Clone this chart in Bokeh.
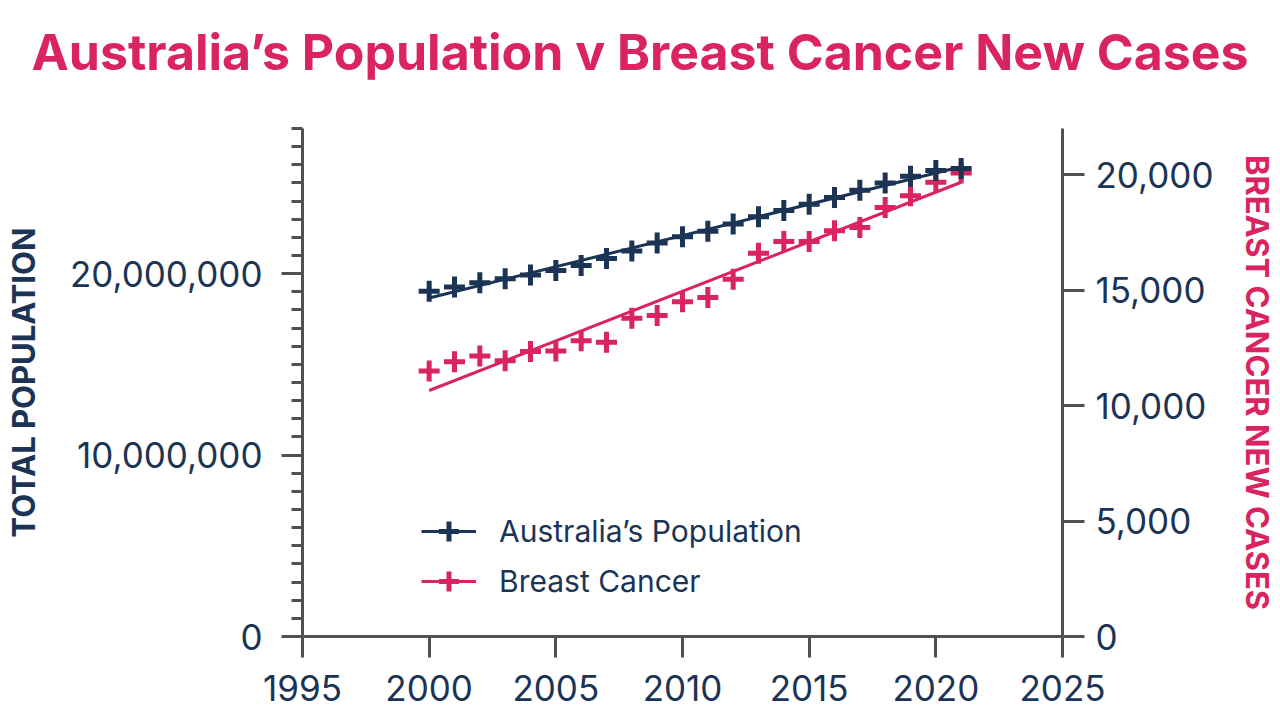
import numpy as np
from bokeh.plotting import figure
from bokeh.models import (Range1d, LinearAxis, FixedTicker, NumeralTickFormatter,
                          Legend, LegendItem, Title)
from bokeh.embed import file_html
from bokeh.resources import INLINE

years = list(range(2000, 2022))
population = [19.03e6, 19.27e6, 19.50e6, 19.72e6, 19.93e6, 20.18e6, 20.45e6, 20.83e6,
              21.25e6, 21.69e6, 22.03e6, 22.34e6, 22.73e6, 23.13e6, 23.48e6, 23.82e6,
              24.19e6, 24.60e6, 24.99e6, 25.37e6, 25.69e6, 25.80e6]
breast_cancer = [11500, 11900, 12150, 11940, 12340, 12360, 12810, 12740, 13780, 13900,
                 14500, 14680, 15470, 16600, 17110, 17110, 17570, 17710, 18580, 19090,
                 19670, 20070]
x_ticks = [1995, 2000, 2005, 2010, 2015, 2020, 2025]
pop_ticks = [0, 10_000_000, 20_000_000]
bc_ticks = [0, 5000, 10000, 15000, 20000]

NAVY = "#1b3455"
PINK = "#d9245f"
AXIS = "#505050"
FONT = "Inter"

# linear trend lines fitted to the data
yr = np.array(years, dtype=float)
pop_fit = np.polyval(np.polyfit(yr, population, 1), [yr[0], yr[-1]])
bc_fit = np.polyval(np.polyfit(yr, breast_cancer, 1), [yr[0], yr[-1]])

p = figure(width=1280, height=720, output_backend="svg", toolbar_location=None,
           x_range=Range1d(1995, 2025), y_range=Range1d(0, 28_000_000),
           min_border_left=302, min_border_right=218, min_border_top=128,
           min_border_bottom=84)
p.extra_y_ranges = {"bc": Range1d(0, 22000)}
p.outline_line_color = None
p.xgrid.visible = False
p.ygrid.visible = False
p.background_fill_color = "white"
p.border_fill_color = "white"

# axes styling
xa = p.xaxis[0]
xa.ticker = FixedTicker(ticks=x_ticks, minor_ticks=[])
ya = p.yaxis[0]
ya.ticker = FixedTicker(ticks=pop_ticks, minor_ticks=list(range(0, 28_000_001, 1_000_000)))
ya.formatter = NumeralTickFormatter(format="0,0")
ya.axis_label = "TOTAL POPULATION"
ya.axis_label_text_color = NAVY

ra = LinearAxis(y_range_name="bc", ticker=FixedTicker(ticks=bc_ticks, minor_ticks=[]),
                formatter=NumeralTickFormatter(format="0,0"))
ra.axis_label = "BREAST CANCER NEW CASES"
ra.axis_label_text_color = PINK
p.add_layout(ra, "right")

for ax in (xa, ya, ra):
    ax.axis_line_color = AXIS
    ax.axis_line_width = 3
    ax.major_tick_line_color = AXIS
    ax.major_tick_line_width = 3
    ax.minor_tick_line_color = AXIS
    ax.minor_tick_line_width = 3
    ax.major_tick_in = 0
    ax.major_tick_out = 21
    ax.minor_tick_in = 0
    ax.minor_tick_out = 11
    ax.major_label_text_font = FONT
    ax.major_label_text_font_size = "35px"
    ax.major_label_text_color = NAVY
    ax.axis_label_text_font = FONT
    ax.axis_label_text_font_style = "bold"

xa.major_label_standoff = 17
ya.major_label_standoff = 19
ya.axis_label_text_font_size = "31px"
ya.axis_label_standoff = 25
ra.major_tick_out = 22
ra.major_label_standoff = 11
ra.axis_label_text_font_size = "31px"
ra.axis_label_standoff = 23

# series
bc_line = p.line([years[0], years[-1]], bc_fit, y_range_name="bc", line_color=PINK, line_width=3)
bc_pts = p.scatter(years, breast_cancer, y_range_name="bc", marker="cross", size=21,
                   line_color=PINK, line_width=5)
pop_line = p.line([years[0], years[-1]], pop_fit, line_color=NAVY, line_width=3)
pop_pts = p.scatter(years, population, marker="cross", size=21, line_color=NAVY, line_width=5)

legend = Legend(items=[
    LegendItem(label="Australia’s Population", renderers=[pop_line, pop_pts]),
    LegendItem(label="Breast Cancer", renderers=[bc_line, bc_pts]),
], location=(119, 30), orientation="vertical")
legend.border_line_color = None
legend.background_fill_alpha = 0
legend.glyph_width = 55
legend.glyph_height = 50
legend.spacing = 0
legend.label_standoff = 23
legend.label_text_font = FONT
legend.label_text_font_size = "30px"
legend.label_text_color = NAVY
legend.padding = 0
legend.margin = 0
p.add_layout(legend, "center")

# spacer between the title and the plot frame
spacer = Title(text=" ", standoff=0, text_font=FONT, text_font_size="37px")
p.add_layout(spacer, "above")
title = Title(text="Australia’s Population v Breast Cancer New Cases",
              align="left", offset=-271, standoff=0,
              text_font=FONT, text_font_size="50px", text_font_style="bold",
              text_color=PINK)
p.add_layout(title, "above")

open("out.html", "w").write(file_html(p, INLINE))
